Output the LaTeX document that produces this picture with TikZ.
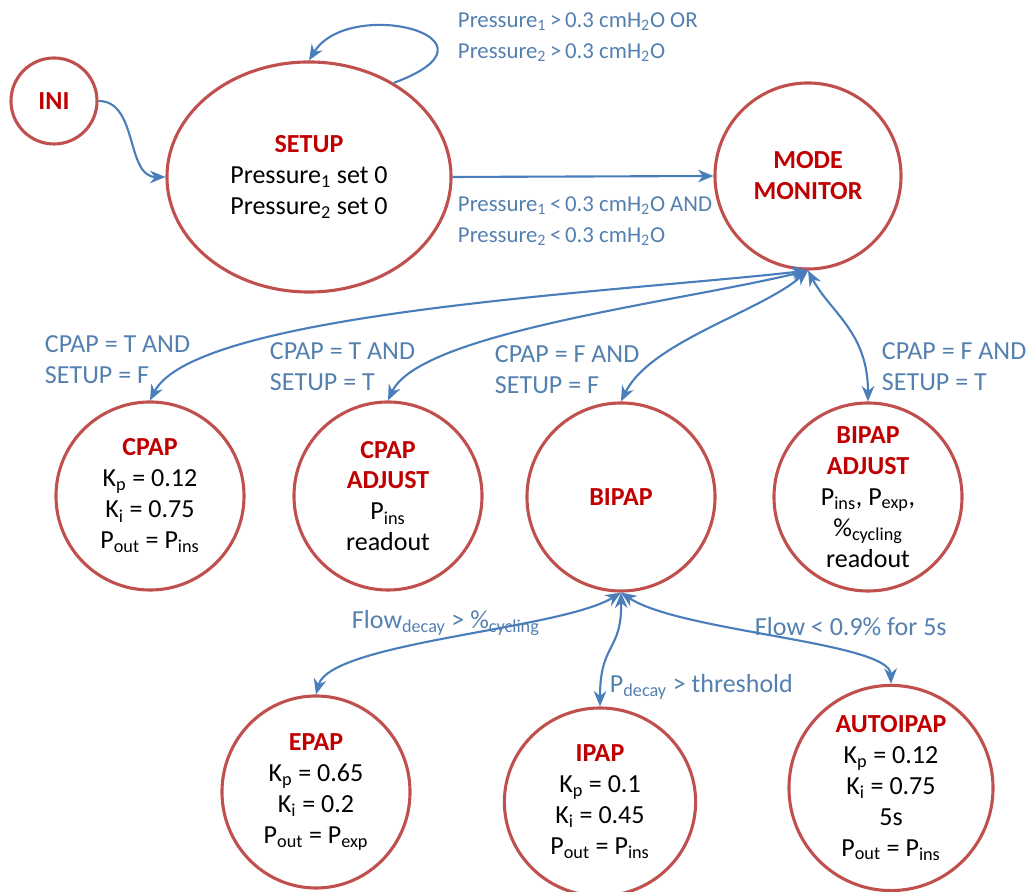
\documentclass[tikz,border=0pt]{standalone}
\usepackage{fontspec}
\setmainfont{Carlito}
\usetikzlibrary{arrows.meta, shapes.geometric, positioning}

\definecolor{stateline}{RGB}{192,80,77}
\definecolor{titlered}{RGB}{192,0,0}
\definecolor{arrowblue}{RGB}{74,126,187}
\definecolor{condblue}{RGB}{84,128,176}

\newcommand{\statename}[1]{{\bfseries\color{titlered}#1}}

\begin{document}
\begin{tikzpicture}[x=0.025cm, y=0.025cm,
    circ/.style={circle, draw=stateline, line width=2.2pt, align=center, inner sep=0pt,
      font=\fontsize{18.5}{22}\selectfont},
    oval/.style={circ, ellipse},
    link/.style={draw=arrowblue, line width=1.5pt, -{Stealth[length=11pt, width=9pt]}},
    twoway/.style={link, {Stealth[length=11pt, width=9pt]}-{Stealth[length=11pt, width=9pt]}},
    cond/.style={text=condblue, align=left, anchor=west, font=\fontsize{18.5}{22}\selectfont},
    smallcond/.style={cond, font=\fontsize{16.2}{22}\selectfont}]
    \useasboundingbox (0,0) rectangle (1032,892);

    % Top row
    \node[circ, minimum size=2.15cm] (ini) at (54,791) {\statename{INI}};
    \node[oval, minimum width=7.1cm, minimum height=5.75cm] (setup) at (309,715)
      {\statename{SETUP}\\ Pressure\textsubscript{1} set 0\\ Pressure\textsubscript{2} set 0};
    \node[circ, minimum size=4.65cm] (monitor) at (808,716) {\statename{MODE}\\ \statename{MONITOR}};

    % Middle row
    \node[circ, minimum size=4.7cm] (cpap) at (150,396)
      {\statename{CPAP}\\ K\textsubscript{p} = 0.12\\ K\textsubscript{i} = 0.75\\ P\textsubscript{out} = P\textsubscript{ins}};
    \node[circ, minimum size=4.7cm] (cpapadj) at (388,396)
      {\statename{CPAP}\\ \statename{ADJUST}\\ P\textsubscript{ins}\\ readout};
    \node[circ, minimum size=4.7cm] (bipap) at (621,395) {\statename{BIPAP}};
    \node[circ, minimum size=4.7cm] (bipapadj) at (868,395)
      {\statename{BIPAP}\\ \statename{ADJUST}\\ P\textsubscript{ins}, P\textsubscript{exp},\\ \%\textsubscript{cycling}\\ readout};

    % Bottom row
    \node[oval, minimum width=4.7cm, minimum height=4.8cm] (epap) at (316,100)
      {\statename{EPAP}\\ K\textsubscript{p} = 0.65\\ K\textsubscript{i} = 0.2\\ P\textsubscript{out} = P\textsubscript{exp}};
    \node[oval, minimum width=4.78cm, minimum height=4.7cm] (ipap) at (600,90)
      {\statename{IPAP}\\ K\textsubscript{p} = 0.1\\ K\textsubscript{i} = 0.45\\ P\textsubscript{out} = P\textsubscript{ins}};
    \node[oval, minimum width=5.1cm, minimum height=4.75cm] (autoipap) at (891,104)
      {\statename{AUTOIPAP}\\ K\textsubscript{p} = 0.12\\ K\textsubscript{i} = 0.75\\ 5s\\ P\textsubscript{out} = P\textsubscript{ins}};

    % Transitions
    \draw[link] (ini.east) to[out=0, in=180] (setup.west);
    \draw[link] (setup.48) .. controls +(122,45) and +(40,65) .. (setup.north);
    \draw[link] (setup.east) -- (monitor.west);

    \draw[twoway] (monitor.south) .. controls (620,600) and (195,580) .. (cpap.north);
    \draw[twoway] (monitor.south) .. controls (680,590) and (420,560) .. (cpapadj.north);
    \draw[twoway] (monitor.south) .. controls (760,580) and (650,550) .. (bipap.north);
    \draw[twoway] (monitor.south) .. controls (830,580) and (868,560) .. (bipapadj.north);

    \draw[twoway] (bipap.south) .. controls (560,262) and (330,250) .. (epap.north);
    \draw[twoway] (bipap.south) .. controls (622,240) and (600,250) .. (ipap.north);
    \draw[twoway] (bipap.south) .. controls (680,260) and (890,250) .. (autoipap.north);

    % Conditions
    \node[smallcond] (loopcond) at (453,855)
      {Pressure\textsubscript{1}\,>\,0.3 cmH\textsubscript{2}O OR\\ Pressure\textsubscript{2}\,>\,0.3 cmH\textsubscript{2}O};
    \node[smallcond] (gocond) at (453,671)
      {Pressure\textsubscript{1}\,<\,0.3 cmH\textsubscript{2}O AND\\ Pressure\textsubscript{2}\,<\,0.3 cmH\textsubscript{2}O};
    \node[cond] (c1) at (40,532) {CPAP = T AND\\ SETUP = F};
    \node[cond] (c2) at (265,525) {CPAP = T AND\\ SETUP = T};
    \node[cond] (c3) at (490,522) {CPAP = F AND\\ SETUP = F};
    \node[cond] (c4) at (877,525) {CPAP = F AND\\ SETUP = T};
    \node[cond] (c5) at (347,269) {Flow\textsubscript{decay} > \%\textsubscript{cycling}};
    \node[cond] (c6) at (605,205) {P\textsubscript{decay} > threshold};
    \node[cond] (c7) at (750,265) {Flow < 0.9\% for 5s};
\end{tikzpicture}
\end{document}
